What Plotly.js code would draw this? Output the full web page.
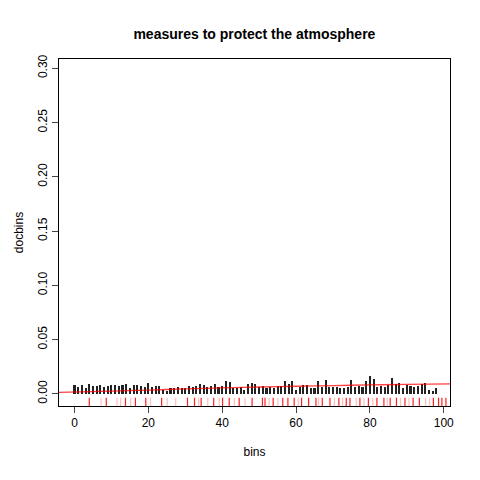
<!DOCTYPE html>
<html><head><script src="https://cdn.plot.ly/plotly-3.0.1.min.js"></script></head>
<body style="margin:0"><div id="plot" style="width:480px;height:480px"></div>
<script>
// binned document density
const bins = Array.from({length: 99}, (_, i) => i);
const docbins = [0.008,0.006,0.008,0.005,0.009,0.007,0.007,0.008,0.006,0.007,
  0.008,0.008,0.007,0.008,0.009,0.005,0.008,0.008,0.007,0.006,
  0.010,0.006,0.007,0.007,0.004,0.003,0.005,0.005,0.006,0.005,
  0.005,0.007,0.006,0.007,0.009,0.008,0.006,0.007,0.009,0.006,
  0.007,0.012,0.011,0.005,0.005,0.006,0.004,0.009,0.010,0.009,
  0.006,0.007,0.005,0.006,0.005,0.007,0.007,0.012,0.009,0.012,
  0.004,0.006,0.008,0.008,0.005,0.005,0.012,0.006,0.013,0.006,
  0.006,0.006,0.005,0.005,0.006,0.013,0.006,0.007,0.006,0.012,
  0.016,0.014,0.006,0.007,0.006,0.008,0.015,0.009,0.010,0.005,
  0.008,0.007,0.006,0.007,0.009,0.010,0.004,0.003,0.005];
// smoothed trend
const smoothX = [-5, 10, 20, 30, 40, 50, 60, 70, 80, 90, 102];
const smoothY = [0.0012, 0.0025, 0.0035, 0.0045, 0.0055, 0.0063, 0.0070, 0.0076, 0.0082, 0.0087, 0.0092];
// rug positions (strong and faint)
const rugStrong = [4,8.6,13.8,16.5,19.3,23.6,30.6,32.5,34.3,37.7,40.1,41.9,44.6,48.1,50.9,51.6,53.8,56.4,57.8,59.5,61.5,63.4,65.4,67.1,69.2,71.6,73.6,74.6,77.3,79.6,81.9,83.8,85.5,87.2,89.5,91.7,93.4,97.2,98.6,99.5,100.6];
const rugFaint = [7.2,11.5,12.5,15.2,20.6,25.1,27.4,33.6,36.1,39.2,43.3,46.2,52.7,55.1,60.6,66.1,70.4,72.6,76.3,78.4,80.8,84.7,88.3,90.6,95.1,96.2];

function rugXY(xs) {
  const x = [], y = [];
  xs.forEach(v => { x.push(v, v, null); y.push(-0.0112, -0.0035, null); });
  return {x, y};
}
const rs = rugXY(rugStrong), rf = rugXY(rugFaint);

const traces = [
  {x: bins, y: docbins, type: "bar", width: 0.55, marker: {color: "#222"}, hoverinfo: "x+y"},
  {x: smoothX, y: smoothY, type: "scatter", mode: "lines", line: {color: "rgba(255,0,0,0.75)", width: 1.3, shape: "spline"}},
  {x: rs.x, y: rs.y, type: "scatter", mode: "lines", line: {color: "#ff2020", width: 1.2}},
  {x: rf.x, y: rf.y, type: "scatter", mode: "lines", line: {color: "rgba(255,90,90,0.4)", width: 1.2}}
];

const axFont = {family: "Liberation Sans, Arial, sans-serif", size: 12, color: "#000"};
const layout = {
  width: 480, height: 480,
  margin: {l: 59, r: 30, t: 59, b: 74},
  paper_bgcolor: "#fff", plot_bgcolor: "#fff",
  showlegend: false, bargap: 0,
  font: axFont,
  title: {text: "<b>measures to protect the atmosphere</b>", x: 0.53, xanchor: "center", y: 0.94,
          font: {family: "Liberation Sans, Arial, sans-serif", size: 14, color: "#000"}},
  xaxis: {range: [-4.2, 101.7], tickvals: [0,20,40,60,80,100], ticks: "outside", ticklen: 6,
          showline: true, mirror: true, linecolor: "#000", showgrid: false, zeroline: false,
          title: {text: "bins", font: axFont, standoff: 18}},
  yaxis: {range: [-0.0112, 0.3085], tickvals: [0,0.05,0.1,0.15,0.2,0.25,0.3],
          ticktext: ["0.00","0.05","0.10","0.15","0.20","0.25","0.30"], tickangle: -90,
          ticks: "outside", ticklen: 6, showline: true, mirror: true, linecolor: "#000",
          showgrid: false, zeroline: false,
          title: {text: "docbins", font: axFont, standoff: 10}}
};
Plotly.newPlot("plot", traces, layout, {displayModeBar: false, staticPlot: true});
</script></body></html>
